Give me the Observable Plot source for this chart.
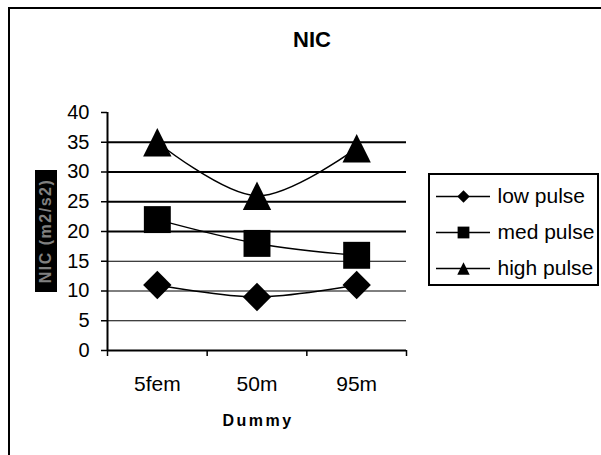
<!DOCTYPE html>
<html><head><meta charset="utf-8">
<script src="https://cdn.jsdelivr.net/npm/d3@7"></script>
<script src="https://cdn.jsdelivr.net/npm/@observablehq/plot@0.6"></script>
<style>
body{margin:0;background:#fff;overflow:hidden;font-family:Arial,"Liberation Sans",sans-serif;}
#wrap{position:relative;width:601px;height:455px;overflow:hidden;background:#fff;}
#frame{position:absolute;left:8px;top:7px;width:800px;height:800px;border-left:2px solid #000;border-top:2px solid #000;}
#chart{position:absolute;left:0;top:0;}
#title{position:absolute;left:212px;width:200px;top:29px;text-align:center;font-weight:bold;font-size:22px;line-height:22px;}
#xtitle{position:absolute;left:156px;width:200px;top:413px;text-align:center;font-weight:bold;font-size:16px;line-height:16px;letter-spacing:2.5px;padding-left:2px;}
#ylab{position:absolute;left:35px;top:170px;width:22px;height:122px;background:#000;}
#ylab span{position:absolute;left:50%;top:50%;transform:translate(-50%,-50%) rotate(-90deg);white-space:nowrap;color:#808080;font-weight:bold;font-size:16px;letter-spacing:1.5px;}
#legend{position:absolute;left:428px;top:173px;width:167px;height:109px;border:2px solid #000;background:#fff;}
</style></head>
<body>
<div id="wrap">
  <div id="frame"></div>
  <div id="chart"></div>
  <div id="title">NIC</div>
  <div id="xtitle">Dummy</div>
  <div id="ylab"><span>NIC (m2/s2)</span></div>
  <div id="legend"></div>
</div>
<script>
const categories = ["5fem", "50m", "95m"];
const seriesNames = ["low pulse", "med pulse", "high pulse"];
const lowPulse = [11, 9, 11];
const medPulse = [22, 18, 16];
const highPulse = [35, 26, 34];
const yTicks = [0, 5, 10, 15, 20, 25, 30, 35, 40];
const gridValues = [5, 10, 15, 20, 25, 30, 35];

const seriesValues = [lowPulse, medPulse, highPulse];
const data = [];
seriesNames.forEach((s, si) => {
  categories.forEach((c, ci) => {
    data.push({series: s, category: c, xi: ci + 0.5, value: seriesValues[si][ci]});
  });
});

const diamondSym = {draw(ctx, size) { const h = Math.sqrt(size) / 2; ctx.moveTo(0, -h); ctx.lineTo(h, 0); ctx.lineTo(0, h); ctx.lineTo(-h, 0); ctx.closePath(); }};
const squareSym = {draw(ctx, size) { const h = Math.sqrt(size) / 2 * 0.95; ctx.rect(-h, -h, 2 * h, 2 * h); }};
const triangleSym = {draw(ctx, size) { const h = Math.sqrt(size) / 2; ctx.moveTo(0, -h); ctx.lineTo(h, h); ctx.lineTo(-h, h); ctx.closePath(); }};
const symbols = [diamondSym, squareSym, triangleSym];

const font = 'Arial, "Liberation Sans", sans-serif';
const boundaries = d3.range(categories.length + 1);
const centers = categories.map((_, i) => i + 0.5);

const chart = Plot.plot({
  width: 601, height: 455,
  marginLeft: 107, marginRight: 195, marginTop: 112, marginBottom: 105,
  x: {domain: [0, categories.length]},
  y: {domain: [0, 40]},
  style: {fontFamily: font, fontSize: "20px", color: "#000", background: "transparent", overflow: "visible"},
  marks: [
    Plot.ruleY(gridValues, {strokeWidth: d => d >= 20 ? 2 : 1, stroke: "#000"}),
    Plot.axisY(yTicks, {tickSize: 6, tickPadding: 12, strokeWidth: 1.5, label: null, fontSize: 20}),
    Plot.axisX(boundaries, {tickSize: 6, tickFormat: () => "", strokeWidth: 1.5, label: null}),
    Plot.axisX(centers, {tickSize: 0, tickPadding: 26, tickFormat: v => categories[Math.floor(v)], label: null, fontSize: 21}),
    Plot.ruleX([0], {strokeWidth: 2}),
    Plot.ruleY([0], {strokeWidth: 2}),
    Plot.line(data, {x: "xi", y: "value", z: "series", curve: "catmull-rom", stroke: "#000", strokeWidth: 1.5}),
    ...seriesNames.map((s, i) => Plot.dot(data.filter(d => d.series === s), {x: "xi", y: "value", r: 16, symbol: symbols[i], fill: "#000", stroke: "none"}))
  ]
});
document.getElementById("chart").appendChild(chart);

const legend = Plot.plot({
  width: 167, height: 109,
  margin: 0,
  x: {domain: [0, 1], range: [6, 60], axis: null},
  y: {type: "point", domain: seriesNames, range: [20, 93], padding: 0, axis: null},
  style: {fontFamily: font, fontSize: "21px", color: "#000", background: "transparent", overflow: "visible"},
  marks: [
    Plot.ruleY(seriesNames, {y: d => d, x1: 0, x2: 1, stroke: "#000", strokeWidth: 1.5}),
    ...seriesNames.map((s, i) => Plot.dot([s], {x: 0.5, y: d => d, r: 7, symbol: symbols[i], fill: "#000", stroke: "none"})),
    Plot.text(seriesNames, {x: 1, y: d => d, text: d => d, textAnchor: "start", dx: 7, fontSize: 21, fill: "#000"})
  ]
});
document.getElementById("legend").appendChild(legend);
</script>
</body></html>
